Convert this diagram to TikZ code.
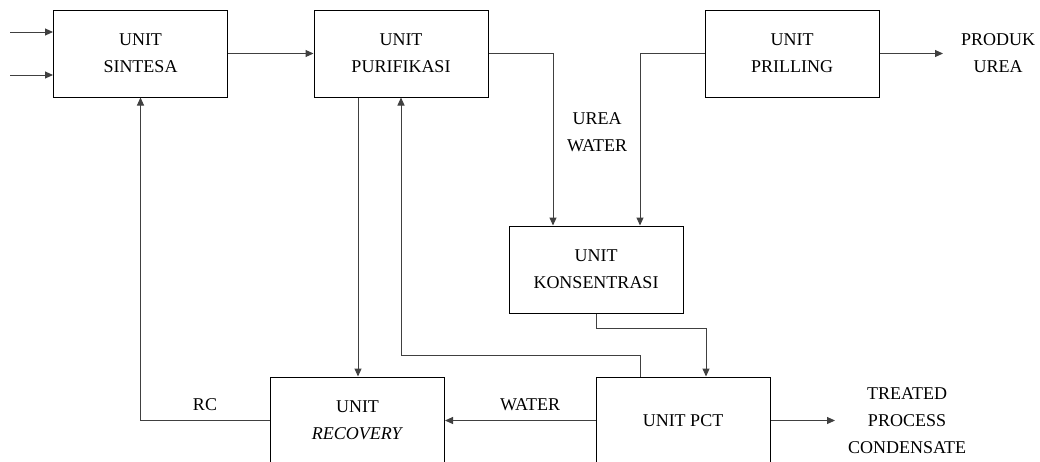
\documentclass[tikz,border=0pt]{standalone}
\usepackage{fontspec}
\setmainfont{Liberation Serif}
\usetikzlibrary{arrows.meta}
\begin{document}
\begin{tikzpicture}[x=1pt,y=-1pt,
  unitbox/.style={draw=black,line width=1pt,minimum width=174pt,minimum height=87pt,align=center,inner sep=0pt,font=\fontsize{18}{27}\selectfont},
  lbl/.style={align=center,inner sep=0pt,font=\fontsize{18}{27}\selectfont},
  arr/.style={draw=black!75,line width=1pt,-{Triangle[length=8pt,width=7pt]}},
  ln/.style={draw=black!75,line width=1pt}]
\useasboundingbox (0,0) rectangle (1040,461);
\clip (0,0) rectangle (1040,461);
\node[unitbox] (sin) at (140.5,53.5) {UNIT\\SINTESA};
\node[unitbox] (pur) at (401,53.5) {UNIT\\PURIFIKASI};
\node[unitbox] (pri) at (792,53.5) {UNIT\\PRILLING};
\node[unitbox] (kon) at (596,269.5) {UNIT\\KONSENTRASI};
\node[unitbox] (rec) at (357.5,420.5) {UNIT\\\textit{RECOVERY}};
\node[unitbox] (pct) at (683,420.5) {UNIT PCT};
\coordinate (i1) at (10,32);
\coordinate (i2) at (10,75);
\draw[arr] (i1) -- (i1 -| sin.west);
\draw[arr] (i2) -- (i2 -| sin.west);
\draw[arr] (sin.east) -- (pur.west);
\draw[arr] (pur.east) -| ([xshift=-43pt]kon.north);
\draw[arr] (pri.west) -| ([xshift=44pt]kon.north);
\coordinate (prod) at (943,53.5);
\draw[arr] (pri.east) -- (prod);
\node[lbl] (produk) at (998,53) {PRODUK\\UREA};
\node[lbl] (urea) at (597,132) {UREA\\WATER};
\draw[arr] (kon.south) -- ++(0,15) -| ([xshift=23pt]pct.north);
\draw[arr] ([xshift=-43pt]pct.north) -- ++(0,-21) -| (pur.south);
\draw[arr] ([xshift=-43pt]pur.south) -- ([xshift=-43pt]pur.south |- rec.north);
\draw[arr] (pct.west) -- (rec.east);
\draw[arr] (rec.west) -| (sin.south);
\coordinate (tpc) at (835,420.5);
\draw[arr] (pct.east) -- (tpc);
\node[lbl] (rc) at (205,405) {RC};
\node[lbl] (water) at (530,405) {WATER};
\node[lbl] (treated) at (907,421) {TREATED\\PROCESS\\CONDENSATE};
\end{tikzpicture}
\end{document}
